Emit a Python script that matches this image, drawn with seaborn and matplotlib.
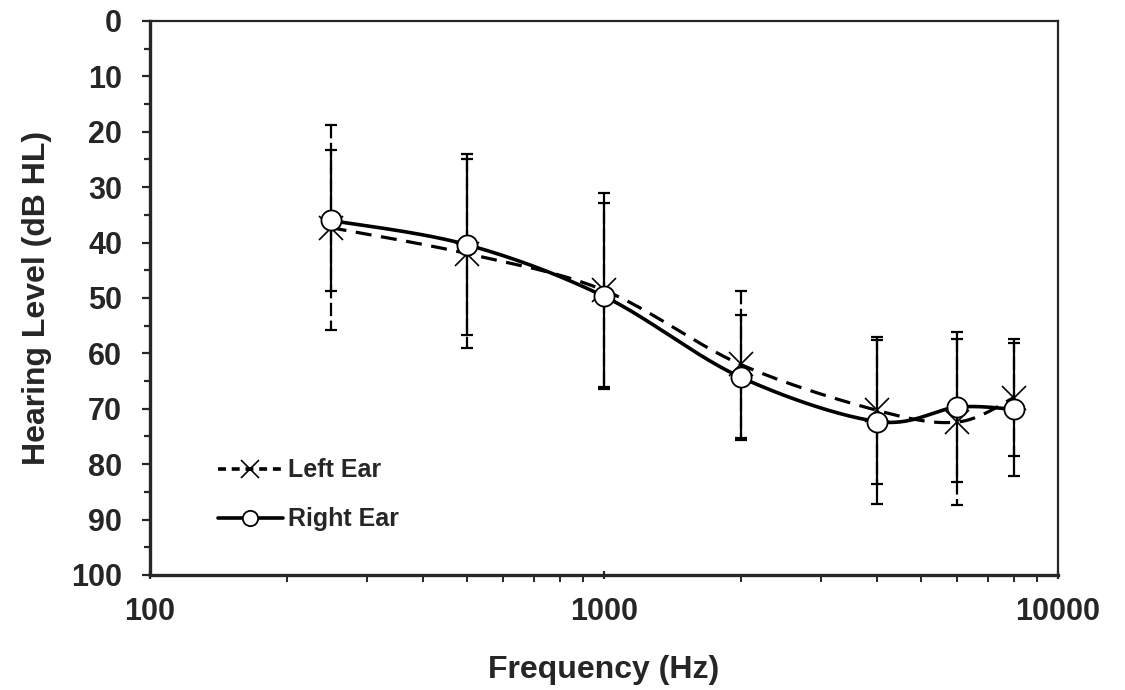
import numpy as np
import pandas as pd
import seaborn as sns
import matplotlib.pyplot as plt
from matplotlib.lines import Line2D
from matplotlib.ticker import MultipleLocator, FixedLocator, NullFormatter

# values
freqs = [250, 500, 1000, 2000, 4000, 6000, 8000]
left_mean = [37.3, 42.0, 48.6, 62.0, 70.3, 72.4, 68.0]
left_sd = [18.5, 17.0, 17.5, 13.2, 13.3, 15.0, 10.6]
right_mean = [36.0, 40.4, 49.7, 64.3, 72.3, 69.7, 70.1]
right_sd = [12.8, 16.3, 16.8, 11.3, 14.8, 13.6, 12.0]

sns.set_theme(style="ticks")
plt.rcParams["font.family"] = ["Liberation Sans", "DejaVu Sans"]
plt.rcParams["font.weight"] = "bold"

fig, ax = plt.subplots(figsize=(11.25, 6.9), dpi=100)
fig.subplots_adjust(left=0.1333, right=0.9404, bottom=0.1667, top=0.9696)

ax.set_xscale("log")
ax.set_xlim(100, 10000)
ax.set_ylim(100, 0)


def smooth_curve(xs, ys, n=40):
    # Excel-style smoothed line (Bezier through points), built in screen space
    pts = ax.transData.transform(np.column_stack([xs, ys]))
    out = []
    for i in range(len(pts) - 1):
        p0 = pts[i - 1] if i > 0 else pts[i]
        p1, p2 = pts[i], pts[i + 1]
        p3 = pts[i + 2] if i + 2 < len(pts) else pts[i + 1]
        c1 = p1 + (p2 - p0) / 6
        c2 = p2 - (p3 - p1) / 6
        t = np.linspace(0, 1, n)[:, None]
        seg = ((1 - t) ** 3) * p1 + 3 * ((1 - t) ** 2) * t * c1 \
            + 3 * (1 - t) * t ** 2 * c2 + t ** 3 * p2
        out.append(seg if i == 0 else seg[1:])
    data = ax.transData.inverted().transform(np.vstack(out))
    return pd.DataFrame({"x": data[:, 0], "y": data[:, 1]})


left_curve = smooth_curve(freqs, left_mean)
right_curve = smooth_curve(freqs, right_mean)

# error bars
eb_l = ax.errorbar(freqs, left_mean, yerr=left_sd, fmt="none", ecolor="black",
                   elinewidth=1.6, capsize=4.5, capthick=1.6, zorder=2)
eb_l[2][0].set_linestyle((0, (6, 2)))
ax.errorbar(freqs, right_mean, yerr=right_sd, fmt="none", ecolor="black",
            elinewidth=1.6, capsize=4.5, capthick=1.6, zorder=2)

# smoothed lines
sns.lineplot(data=left_curve, x="x", y="y", sort=False, estimator=None, ax=ax,
             color="black", lw=2.3, dashes=False, zorder=3)
ax.lines[-1].set_dashes((5, 3))
sns.lineplot(data=right_curve, x="x", y="y", sort=False, estimator=None, ax=ax,
             color="black", lw=2.6, zorder=4)

# markers
ax.plot(freqs, left_mean, ls="none", marker="x", ms=17, mew=1.2,
        color="black", zorder=5)
sns.scatterplot(x=freqs, y=right_mean, ax=ax, marker="o", s=210,
                color="white", edgecolor="black", linewidth=1.3, zorder=6)

# axes styling
ax.set_ylim(100, 0)
ax.yaxis.set_major_locator(MultipleLocator(10))
ax.yaxis.set_minor_locator(MultipleLocator(5))
ax.xaxis.set_major_locator(FixedLocator([100, 1000, 10000]))
ax.xaxis.set_minor_formatter(NullFormatter())
ax.set_xticklabels(["100", "1000", "10000"])

ax.tick_params(axis="y", which="major", length=6, width=1.6, pad=14,
               labelsize=22, right=False, direction="out")
ax.tick_params(axis="y", which="minor", length=4, width=1.6, right=False,
               direction="out")
ax.tick_params(axis="x", which="major", length=6, width=1.6, pad=13,
               labelsize=22, top=False, direction="inout")
ax.tick_params(axis="x", which="minor", length=5, width=1.4, top=False,
               direction="out")
for lab in ax.get_xticklabels() + ax.get_yticklabels():
    lab.set_fontweight("bold")

for side in ["left", "bottom"]:
    ax.spines[side].set_linewidth(2.4)
for side in ["top", "right"]:
    ax.spines[side].set_linewidth(1.6)
    ax.spines[side].set_visible(True)

ax.set_xlabel("Frequency (Hz)", fontsize=23, fontweight="bold", labelpad=20)
ax.set_ylabel("Hearing Level (dB HL)", fontsize=23, fontweight="bold", labelpad=14)

handles = [
    Line2D([], [], color="black", lw=2.6, dashes=(2.2, 1.6), marker="x", ms=13,
           mew=1.2),
    Line2D([], [], color="black", lw=2.6, marker="o", ms=11, mfc="white",
           mec="black", mew=1.3),
]
ax.legend(handles, ["Left Ear", "Right Ear"], loc="lower left",
          bbox_to_anchor=(0.05, 0.038), frameon=False,
          prop={"weight": "bold", "size": 18}, handlelength=2.6,
          handletextpad=0.2, labelspacing=1.0)

plt.savefig("out.png", dpi=100)
